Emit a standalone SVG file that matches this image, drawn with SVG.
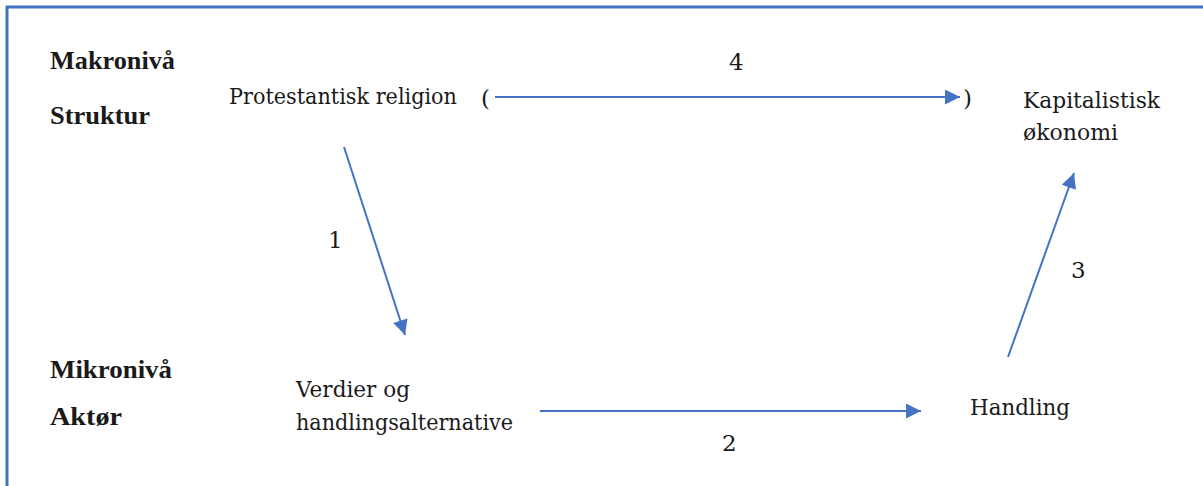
<svg xmlns="http://www.w3.org/2000/svg" width="1203" height="486" viewBox="0 0 1203 486">
<style>
text{font-size:26px;fill:#1a1a1a;font-family:'Liberation Serif','Times New Roman',serif}
.r{font-family:'DejaVu Serif',serif;font-size:23px}
.b{font-weight:bold}
.c{stroke:#4472C4;stroke-width:2;fill:none}
</style>
<defs>
<marker id="ah" viewBox="0 0 10 10" refX="10" refY="5" markerWidth="8.5" markerHeight="7.5" markerUnits="strokeWidth" orient="auto">
<path d="M0,0 L10,5 L0,10 Z" fill="#4472C4"/>
</marker>
</defs>
<rect width="1203" height="486" fill="#fff"/>
<path d="M7,486 V7 H1203" stroke="#4472C4" stroke-width="3" fill="none"/>
<g id="labels">
<text class="b" x="50" y="69" textLength="125" lengthAdjust="spacingAndGlyphs">Makronivå</text>
<text class="b" x="50" y="124" textLength="100" lengthAdjust="spacingAndGlyphs">Struktur</text>
<text class="b" x="50" y="378" textLength="122" lengthAdjust="spacingAndGlyphs">Mikronivå</text>
<text class="b" x="50" y="425" textLength="72" lengthAdjust="spacingAndGlyphs">Aktør</text>
</g>
<g id="protestantisk"><text class="r" x="229" y="104" textLength="228" lengthAdjust="spacingAndGlyphs">Protestantisk religion</text></g>
<g id="kapitalistisk"><text class="r" x="1023" y="108" textLength="137" lengthAdjust="spacingAndGlyphs">Kapitalistisk</text><text class="r" x="1023" y="140" textLength="95" lengthAdjust="spacingAndGlyphs">økonomi</text></g>
<g id="verdier"><text class="r" x="296" y="397" textLength="114" lengthAdjust="spacingAndGlyphs">Verdier og</text><text class="r" x="296" y="430" textLength="217" lengthAdjust="spacingAndGlyphs">handlingsalternative</text></g>
<g id="handling"><text class="r" x="970" y="415" textLength="100" lengthAdjust="spacingAndGlyphs">Handling</text></g>
<g id="connectors">
<text class="r" x="481" y="106">(</text>
<text class="r" x="963" y="106">)</text>
<line class="c" x1="495" y1="97" x2="960" y2="97" marker-end="url(#ah)"/>
<line class="c" x1="344" y1="147" x2="405" y2="335" marker-end="url(#ah)"/>
<line class="c" x1="540" y1="411" x2="921" y2="411" marker-end="url(#ah)"/>
<line class="c" x1="1008" y1="357" x2="1074" y2="173" marker-end="url(#ah)"/>
<text class="r" x="729" y="70">4</text>
<text class="r" x="328" y="248">1</text>
<text class="r" x="722" y="451">2</text>
<text class="r" x="1071" y="278">3</text>
</g>
</svg>
